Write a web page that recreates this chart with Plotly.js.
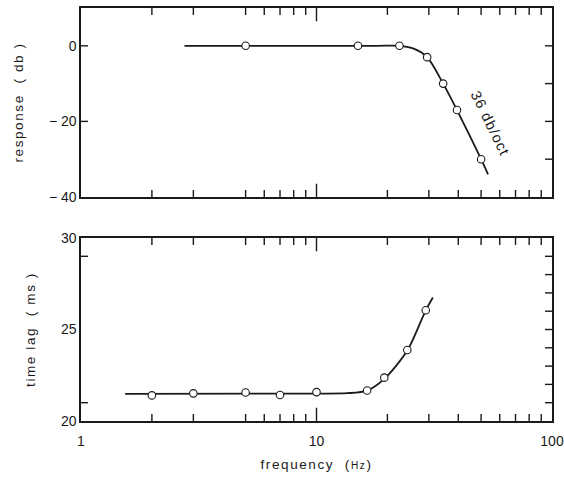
<!DOCTYPE html>
<html>
<head>
<meta charset="utf-8">
<script src="https://cdn.plot.ly/plotly-3.0.1.min.js"></script>
<style>
  html, body { margin: 0; padding: 0; background: #fff; }
  #chart { width: 564px; height: 480px; }
  text.xtitle, text.x2title, text.ytitle, text.y2title { letter-spacing: 1.6px; }
  .annotation-text { letter-spacing: 1.2px; }
</style>
</head>
<body>
<div id="chart"></div>
<script>
// Measured response of the filter (dB) at each test frequency
const respFreq = [5, 15, 22.5, 29.5, 34.5, 39.5, 50];
const respDb   = [0, 0, 0, -3, -10, -17, -30];
// Smooth response curve drawn through the measurements
const respCurveFreq = [2.75, 18, 22.5, 26, 29.5, 34.5, 39.5, 50, 53.5];
const respCurveDb   = [0, 0, 0, -0.8, -3, -10, -17, -30, -34];

// Measured time lag (ms) at each test frequency
const lagFreq = [2, 3, 5, 7, 10, 16.4, 19.4, 24.3, 29.1];
const lagMs   = [21.4, 21.51, 21.56, 21.42, 21.58, 21.67, 22.37, 23.88, 26.05];
// Smooth time-lag curve
const lagCurveFreq = [1.54, 10, 13.5, 16.4, 19.4, 24.3, 29.1, 31.2];
const lagCurveMs   = [21.48, 21.5, 21.52, 21.66, 22.3, 23.85, 26.05, 26.75];

// Axis ranges and ticks
const freqRange = [1, 100];
const respRange = [-40, 10];
const lagRange = [20, 30];
const freqLabels = [1, 10, 100];
const freqDecadeTicks = [10];
const freqMinorTicks = [2, 3, 5, 6, 7, 8, 9, 20, 30, 40, 50, 60, 70, 80, 90];
const respTicks = [-40, -20, 0];
const respTickText = ['\u2212 40', '\u2212 20', '0'];
const respLeftTicks = [-20, 0];
const respRightTicks = [-30, -20, -10, 0];
const lagTicks = [20, 25, 30];
const lagLeftTicks = [21, 29];
const lagRightTicks = [21, 22, 23, 24, 25, 26, 27, 28, 29];

const ink = '#1a1a1a';
const fontFam = 'Liberation Sans, Arial, sans-serif';

const curveLine = { color: ink, width: 1.8, shape: 'spline', smoothing: 0.8 };
const openMarker = { symbol: 'circle', size: 7.5, color: '#fff', line: { color: ink, width: 1.1 } };

// Frame tick marks: line markers centred on a frame edge, clipped to the
// plot area so only the inner half shows.
function edgeTicks(xs, ys, xa, ya, symbol, size) {
  return {
    x: xs, y: ys, xaxis: xa, yaxis: ya, mode: 'markers', cliponaxis: true, hoverinfo: 'skip',
    marker: { symbol: symbol, size: size, color: ink, line: { color: ink, width: 1.4 } }
  };
}
function frameTicks(xa, ya, yRange, leftTicks, rightTicks) {
  const lo = yRange[0], hi = yRange[1];
  return [
    edgeTicks(freqMinorTicks, freqMinorTicks.map(() => lo), xa, ya, 'line-ns-open', 10),
    edgeTicks(freqMinorTicks, freqMinorTicks.map(() => hi), xa, ya, 'line-ns-open', 10),
    edgeTicks(freqDecadeTicks, freqDecadeTicks.map(() => lo), xa, ya, 'line-ns-open', 19),
    edgeTicks(freqDecadeTicks, freqDecadeTicks.map(() => hi), xa, ya, 'line-ns-open', 19),
    edgeTicks(leftTicks.map(() => freqRange[0]), leftTicks, xa, ya, 'line-ew-open', 10),
    edgeTicks(rightTicks.map(() => freqRange[1]), rightTicks, xa, ya, 'line-ew-open', 10)
  ];
}

const traces = [].concat(
  frameTicks('x', 'y', respRange, respLeftTicks, respRightTicks),
  frameTicks('x2', 'y2', lagRange, lagLeftTicks, lagRightTicks),
  [
    { x: respCurveFreq, y: respCurveDb, xaxis: 'x', yaxis: 'y', mode: 'lines', line: curveLine, hoverinfo: 'skip' },
    { x: respFreq, y: respDb, xaxis: 'x', yaxis: 'y', mode: 'markers', marker: openMarker },
    { x: lagCurveFreq, y: lagCurveMs, xaxis: 'x2', yaxis: 'y2', mode: 'lines', line: curveLine, hoverinfo: 'skip' },
    { x: lagFreq, y: lagMs, xaxis: 'x2', yaxis: 'y2', mode: 'markers', marker: openMarker }
  ]
);

// transparent outside ticks keep the labels clear of the frame
const spacerTicks = { ticks: 'outside', ticklen: 7, tickcolor: 'rgba(0,0,0,0)' };

function freqAxis(anchor, showLabels) {
  return Object.assign({
    type: 'log', range: freqRange.map(Math.log10), domain: [0, 1], anchor: anchor,
    showgrid: false, zeroline: false,
    showline: true, linecolor: ink, linewidth: 1.6, mirror: true,
    tickmode: 'array', tickvals: freqLabels,
    showticklabels: showLabels,
    tickfont: { family: fontFam, size: 14, color: ink }
  }, spacerTicks);
}

const layout = {
  width: 564, height: 480,
  margin: { l: 81, r: 12, t: 8, b: 59 },
  paper_bgcolor: '#fff', plot_bgcolor: '#fff',
  showlegend: false,
  font: { family: fontFam, color: ink, size: 13 },
  xaxis: freqAxis('y', false),
  xaxis2: Object.assign(freqAxis('y2', true), {
    title: { text: 'frequency  (<span style="font-size:10px">Hz</span>)', font: { family: fontFam, size: 13.5, color: ink }, standoff: 11 }
  }),
  yaxis: {
    domain: [0.5424, 1], range: respRange, anchor: 'x',
    showgrid: false, zeroline: false,
    showline: true, linecolor: ink, linewidth: 1.6, mirror: true,
    tickmode: 'array', tickvals: respTicks, ticktext: respTickText, ticks: '',
    tickfont: { family: fontFam, size: 14, color: ink },
    title: { text: 'response  ( db )', font: { family: fontFam, size: 13.5, color: ink }, standoff: 22 }
  },
  yaxis2: {
    domain: [0, 0.4431], range: lagRange, anchor: 'x2',
    showgrid: false, zeroline: false,
    showline: true, linecolor: ink, linewidth: 1.6, mirror: true,
    tickmode: 'array', tickvals: lagTicks, ticks: '',
    tickfont: { family: fontFam, size: 14, color: ink },
    title: { text: 'time lag  ( ms )', font: { family: fontFam, size: 13.5, color: ink }, standoff: 22 }
  },
  annotations: [{
    xref: 'x', yref: 'y',
    x: Math.log10(54.5), y: -20.5,
    text: '36 db/oct', textangle: 64, showarrow: false,
    font: { family: fontFam, size: 14.5, color: ink }
  }]
};

Plotly.newPlot('chart', traces, layout, { staticPlot: true, displayModeBar: false });
</script>
</body>
</html>
